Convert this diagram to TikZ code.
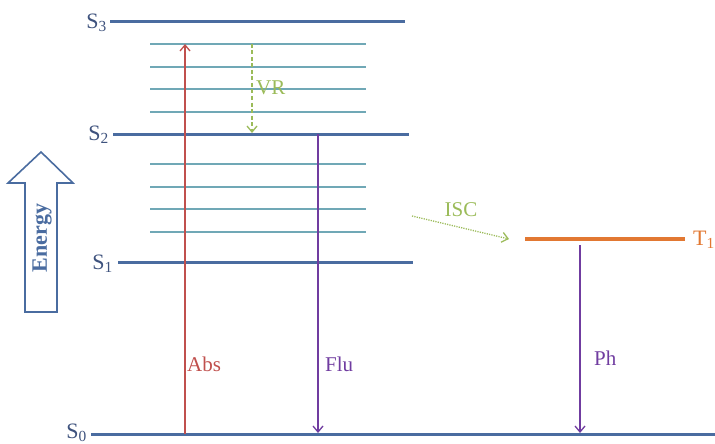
\documentclass[tikz,border=0pt]{standalone}
\usepackage{fontspec}
\setmainfont{Liberation Serif}
\usetikzlibrary{arrows.meta,shapes.arrows}
\definecolor{levelblue}{RGB}{74,108,160}
\definecolor{vibteal}{RGB}{112,168,182}
\definecolor{absred}{RGB}{192,80,77}
\definecolor{flupurple}{RGB}{112,60,160}
\definecolor{vrgreen}{RGB}{155,187,89}
\definecolor{torange}{RGB}{226,120,50}
\definecolor{labblue}{RGB}{62,82,125}
\tikzset{
  level/.style={draw=levelblue, line width=3pt},
  vib/.style={draw=vibteal, line width=2pt},
  tlevel/.style={draw=torange, line width=3.2pt},
  tip/.style={-{Straight Barb[length=6pt,width=10pt,line width=1.3pt]}},
  slab/.style={font=\fontsize{22}{22}\selectfont, text=labblue, inner sep=1pt},
  plab/.style={font=\fontsize{21}{21}\selectfont, inner sep=1pt},
}
\begin{document}
\begin{tikzpicture}[x=1pt,y=-1pt]
\useasboundingbox (0,0) rectangle (715,444);
% levels
\draw[level] (110,22) coordinate (s3a) -- (405,22) coordinate (s3b);
\draw[level] (113,134) coordinate (s2a) -- (409,134) coordinate (s2b);
\draw[level] (118,262) coordinate (s1a) -- (413,262) coordinate (s1b);
\draw[level] (91,434) coordinate (s0a) -- (715,434) coordinate (s0b);
\draw[tlevel] (525,239) coordinate (t1a) -- (685,239) coordinate (t1b);
% vibrational levels
\foreach \y in {44,67,89,112,164,187,209,232}
  \draw[vib] (150,\y) -- (366,\y);
% labels
\node[slab, anchor=east] (S3) at (108,23) {S\textsubscript{3}};
\node[slab, anchor=east] (S2) at (110,135) {S\textsubscript{2}};
\node[slab, anchor=east] (S1) at (114,264) {S\textsubscript{1}};
\node[slab, anchor=east] (S0) at (88,433) {S\textsubscript{0}};
\node[slab, anchor=west, text=torange] (T1) at (692,240) {T\textsubscript{1}};
% transitions
\coordinate (absb) at (185,434);
\coordinate (abst) at (185,44);
\draw[absred, line width=1.2pt, tip] (absb) -- (abst);
\node[plab, text=absred, anchor=west] (abs) at (186,364) {Abs};

\coordinate (vrt) at (252,44);
\coordinate (vrb) at (252,133);
\draw[vrgreen, line width=1.3pt, dashed, dash pattern=on 4pt off 2.5pt, tip] (vrt) -- (vrb);
\node[plab, text=vrgreen, anchor=west] (vr) at (255,88) {VR};

\coordinate (flut) at (318,134);
\coordinate (flub) at (318,433);
\draw[flupurple, line width=1.3pt, tip] (flut) -- (flub);
\node[plab, text=flupurple, anchor=west] (flu) at (324,364) {Flu};

\coordinate (pht) at (580,245);
\coordinate (phb) at (580,433);
\draw[flupurple, line width=1.3pt, tip] (pht) -- (phb);
\node[plab, text=flupurple, anchor=west] (ph) at (593,358) {Ph};

\coordinate (isca) at (412,216);
\coordinate (iscb) at (509,239);
\draw[vrgreen, line width=1.3pt, dash pattern=on 1.2pt off 1.2pt, tip] (isca) -- (iscb);
\node[plab, text=vrgreen] (isc) at (461,210) {ISC};

% energy arrow
\draw[levelblue, line width=1.6pt, fill=white]
  (25,312) -- (25,183) -- (8,183) -- (41,152) -- (73,183) -- (57,183) -- (57,312) -- cycle;
\node[rotate=90, text=levelblue, font=\fontsize{22}{22}\selectfont\bfseries] (energy) at (42,238) {Energy};
\end{tikzpicture}
\end{document}
